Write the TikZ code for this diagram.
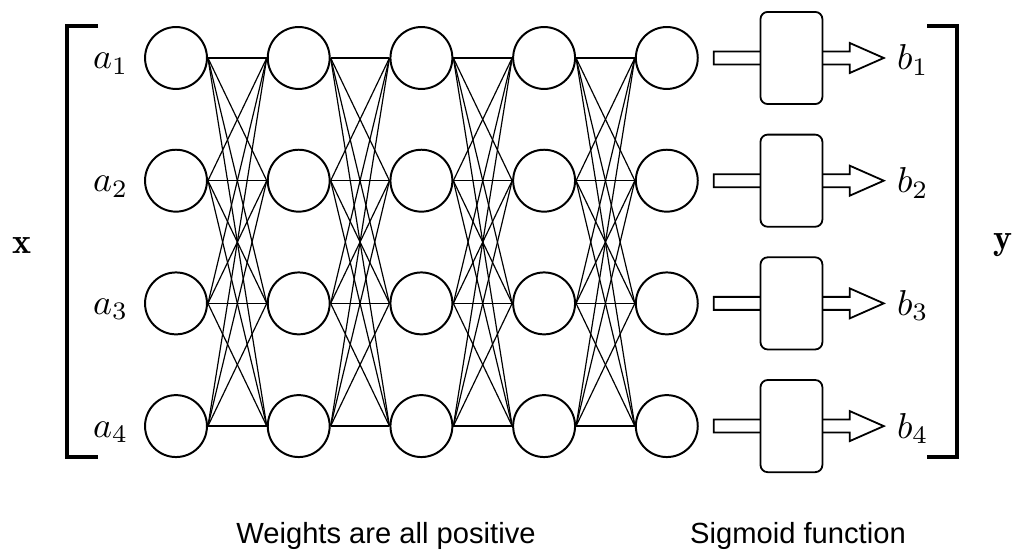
\documentclass[tikz,border=0pt]{standalone}
\usepackage{fontspec}
\newfontfamily\captionfont{Liberation Sans}
\usetikzlibrary{positioning}

\begin{document}
\begin{tikzpicture}[x=0.2778pt, y=-0.2778pt,
    every node/.style={font=\normalsize},
    neuron/.style={draw, circle, line width=0.55pt, minimum size=17.2pt, inner sep=0pt},
    sigbox/.style={draw, fill=white, rounded corners=2pt, line width=0.5pt,
      minimum width=17.2pt, minimum height=25.6pt, inner sep=0pt},
    weight/.style={line width=0.33pt},
    bracket/.style={line width=0.85pt},
    caption/.style={font=\captionfont\fontsize{8.1}{10}\selectfont, anchor=base}]
  \useasboundingbox (0,0) rectangle (1016,552);

  % Neurons
  \foreach \c in {1,...,5} {
    \foreach \r in {1,...,4} {
      \node[neuron] (n\c\r) at ({176+(\c-1)*122.7}, {58+(\r-1)*122.7}) {};
    }
  }

  % Weights (every neuron to every neuron of the next layer)
  \foreach \c [evaluate=\c as \d using int(\c+1)] in {1,...,4} {
    \foreach \r in {1,...,4} {
      \foreach \s in {1,...,4} {
        \draw[weight] (n\c\r.east) -- (n\d\s.west);
      }
    }
  }

  % Inputs, sigmoid boxes and outputs
  \foreach \r in {1,...,4} {
    \node[anchor=base east, inner sep=0pt] (a\r) at ([shift={(-15,11)}]n1\r.west) {$a_\r$};
    \draw[line width=0.5pt, fill=white]
      ([shift={(15,-6.5)}]n5\r.east) -- ([shift={(151,-6.5)}]n5\r.east)
      -- ([shift={(151,-15)}]n5\r.east) -- ([shift={(185,0)}]n5\r.east)
      -- ([shift={(151,15)}]n5\r.east) -- ([shift={(151,6.5)}]n5\r.east)
      -- ([shift={(15,6.5)}]n5\r.east) -- cycle;
    \node[sigbox, right=16.9pt of n5\r] (s\r) {};
    \node[anchor=base west, inner sep=0pt] (b\r) at ([shift={(73,12)}]s\r.east) {$b_\r$};
  }

  % Brackets
  \draw[bracket] (98,26) -- (67,26) -- (67,457) -- (98,457);
  \draw[bracket] (927,26) -- (957,26) -- (957,457) -- (927,457);
  \node[anchor=base] (xvec) at (22,254) {$\mathbf{x}$};
  \node[anchor=base] (yvec) at (1003,250) {$\mathbf{y}$};

  % Captions
  \node[caption] (wcap) at (386,544) {Weights are all positive};
  \node[caption] (scap) at (798,544) {Sigmoid function};
\end{tikzpicture}
\end{document}
